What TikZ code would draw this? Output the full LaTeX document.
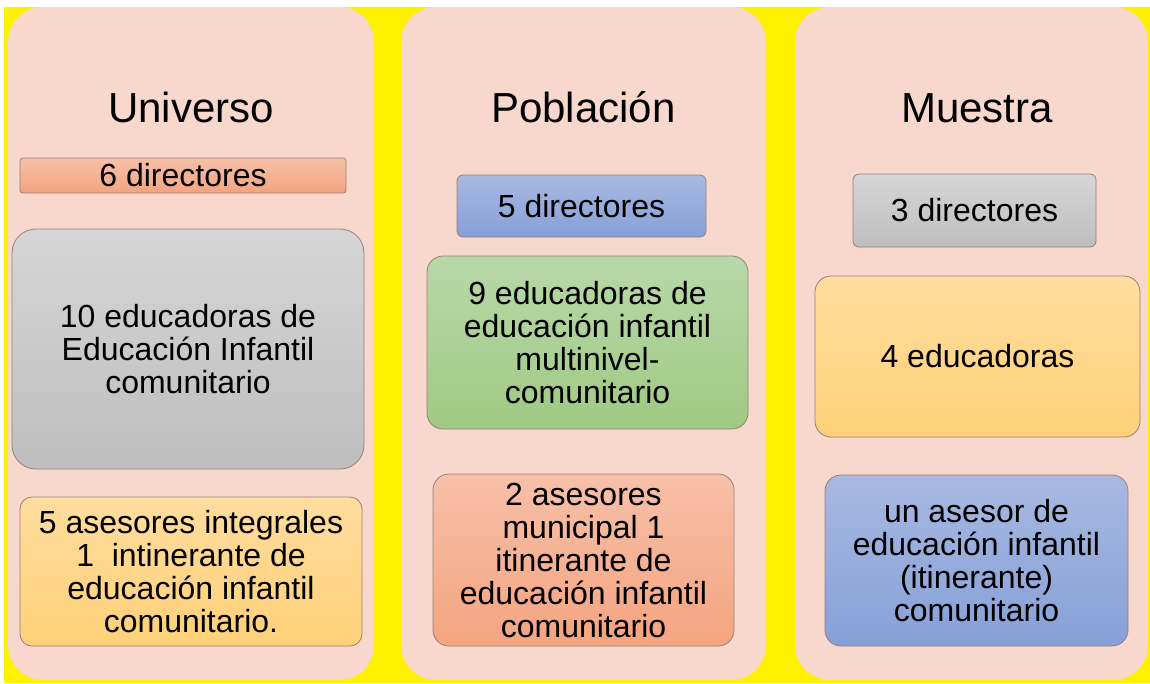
\documentclass[tikz,border=0pt]{standalone}
\usepackage{fontspec}
\setmainfont{Liberation Sans}
\usepackage{xcolor}
\usepackage{tikz}
\usetikzlibrary{positioning}
\definecolor{colpink}{RGB}{248,215,205}
\definecolor{boxline}{RGB}{150,128,122}
\definecolor{salmonT}{RGB}{247,192,168}
\definecolor{salmonB}{RGB}{244,164,128}
\definecolor{grayT}{RGB}{214,214,214}
\definecolor{grayB}{RGB}{190,190,190}
\definecolor{sandT}{RGB}{255,221,158}
\definecolor{sandB}{RGB}{255,208,120}
\definecolor{blueT}{RGB}{168,185,226}
\definecolor{blueB}{RGB}{134,160,215}
\definecolor{greenT}{RGB}{184,216,168}
\definecolor{greenB}{RGB}{160,201,131}
\tikzstyle{column} = [draw=none, fill=colpink, rounded corners=35pt, minimum height=673pt, inner sep=0pt]
\tikzstyle{heading} = [anchor=base, font=\fontsize{42}{44}\selectfont]
\tikzstyle{box} = [draw=boxline, line width=0.8pt, rounded corners=12pt, align=center, inner sep=0pt, font=\fontsize{32}{33}\selectfont]
\tikzstyle{salmonbox} = [box, top color=salmonT, bottom color=salmonB]
\tikzstyle{graybox} = [box, top color=grayT, bottom color=grayB]
\tikzstyle{sandbox} = [box, top color=sandT, bottom color=sandB]
\tikzstyle{bluebox} = [box, top color=blueT, bottom color=blueB]
\tikzstyle{greenbox} = [box, top color=greenT, bottom color=greenB]

\begin{document}
\begin{tikzpicture}[x=1pt, y=-1pt]
        \useasboundingbox (0,0) rectangle (1150,683);
        % Background
        \fill[white] (0,0) rectangle (1150,683);
        \fill[yellow] (4,7) rectangle (1150,683);

        % Columns
        \node[column, minimum width=366pt] (uni_col) at (191,343.5) {};
        \node[column, minimum width=365pt] (pob_col) at (583.5,343.5) {};
        \node[column, minimum width=353pt] (mue_col) at (971.5,343.5) {};

        % Universo
        \node[heading] (uni_title) at (191,122) {Universo};
        \node[salmonbox, rounded corners=3pt, minimum width=326pt, minimum height=35pt] (uni_dir) at (183,175.5) {6 directores};
        \node[graybox, rounded corners=24pt, minimum width=352pt, minimum height=240pt] (uni_edu) at (188,349) {10 educadoras de\\Educación Infantil\\comunitario};
        \node[sandbox, minimum width=342pt, minimum height=149pt] (uni_ase) at (191,571.5) {5 asesores integrales\\1~\ intinerante de\\educación infantil\\comunitario.};

        % Poblacion
        \node[heading] (pob_title) at (583.5,122) {Población};
        \node[bluebox, rounded corners=6pt, minimum width=249pt, minimum height=62pt] (pob_dir) at (581.5,206) {5 directores};
        \node[greenbox, rounded corners=16pt, minimum width=321pt, minimum height=173pt] (pob_edu) at (587.5,342.5) {9 educadoras de\\educación infantil\\multinivel-\\comunitario};
        \node[salmonbox, rounded corners=16pt, minimum width=301pt, minimum height=172pt] (pob_ase) at (583.5,560) {2 asesores\\municipal 1\\itinerante de\\educación infantil\\comunitario};

        % Muestra
        \node[heading] (mue_title) at (977,122) {Muestra};
        \node[graybox, rounded corners=6pt, minimum width=243pt, minimum height=73pt] (mue_dir) at (974.5,210.5) {3 directores};
        \node[sandbox, rounded corners=16pt, minimum width=325pt, minimum height=161pt] (mue_edu) at (977.5,356.5) {4 educadoras};
        \node[bluebox, rounded corners=16pt, minimum width=303pt, minimum height=171pt] (mue_ase) at (976.5,560.5) {un asesor de\\educación infantil\\(itinerante)\\comunitario};

    \end{tikzpicture}
\end{document}
